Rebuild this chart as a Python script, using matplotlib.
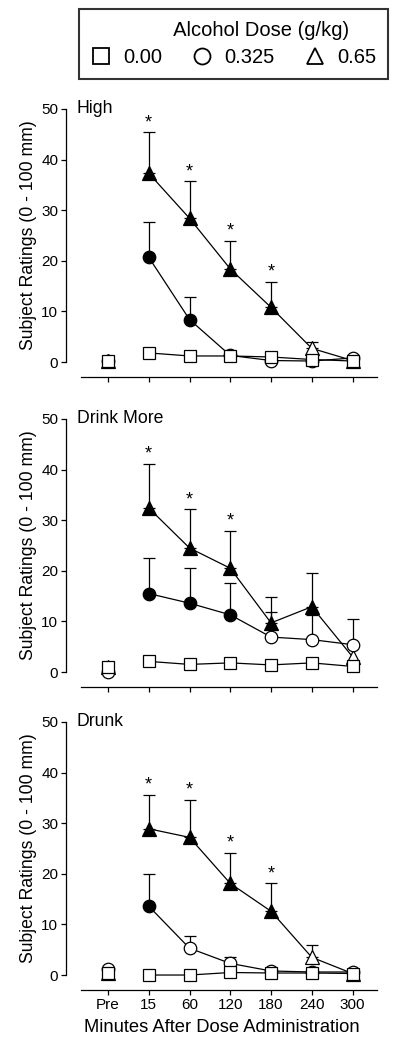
"""Subject ratings over time for three alcohol doses (High / Drink More / Drunk)."""

import numpy as np
import matplotlib
matplotlib.use('Agg')
import matplotlib.pyplot as plt
from matplotlib.lines import Line2D

plt.rcParams['font.family'] = ['Liberation Sans', 'DejaVu Sans']

time_labels = ['Pre', '15', '60', '120', '180', '240', '300']
doses = ['0.00', '0.325', '0.65']
panels = ['High', 'Drink More', 'Drunk']

# means per panel, per dose (Pre, 15, 60, 120, 180, 240, 300)
high_000 = [0.3, 1.8, 1.2, 1.2, 1.0, 0.5, 0.2]
high_0325 = [0.2, 20.7, 8.4, 1.3, 0.3, 0.2, 0.8]
high_065 = [0.3, 37.3, 28.4, 18.4, 10.8, 2.7, 0.3]
high_0325_err = [0.0, 6.9, 4.4, 0.0, 0.0, 0.0, 0.0]
high_065_err = [0.0, 8.1, 7.3, 5.6, 5.1, 1.3, 0.0]

more_000 = [0.9, 2.1, 1.5, 1.8, 1.4, 1.8, 1.1]
more_0325 = [0.0, 15.5, 13.6, 11.3, 6.9, 6.4, 5.4]
more_065 = [0.9, 32.4, 24.5, 20.5, 9.7, 12.9, 3.0]
more_0325_err = [0.0, 7.0, 6.9, 6.3, 5.0, 4.9, 5.0]
more_065_err = [0.0, 8.7, 7.7, 7.4, 5.2, 6.6, 0.0]

drunk_000 = [0.4, 0.0, 0.0, 0.5, 0.4, 0.4, 0.3]
drunk_0325 = [1.1, 13.6, 5.3, 2.3, 0.8, 0.6, 0.6]
drunk_065 = [0.4, 28.9, 27.2, 18.1, 12.6, 3.5, 0.3]
drunk_0325_err = [0.0, 6.3, 2.4, 1.3, 0.0, 0.0, 0.0]
drunk_065_err = [0.0, 6.7, 7.4, 6.1, 5.5, 2.4, 0.0]

# filled markers = significant vs placebo
high_0325_fill = [0, 1, 1, 0, 0, 0, 0]
high_065_fill = [0, 1, 1, 1, 1, 0, 0]
more_0325_fill = [0, 1, 1, 1, 0, 0, 0]
more_065_fill = [0, 1, 1, 1, 1, 1, 0]
drunk_0325_fill = [0, 1, 0, 0, 0, 0, 0]
drunk_065_fill = [0, 1, 1, 1, 1, 0, 0]

high_stars = [1, 2, 3, 4]
more_stars = [1, 2, 3]
drunk_stars = [1, 2, 3, 4]

panel_data = [
    (high_000, high_0325, high_065, high_0325_err, high_065_err,
     high_0325_fill, high_065_fill, high_stars),
    (more_000, more_0325, more_065, more_0325_err, more_065_err,
     more_0325_fill, more_065_fill, more_stars),
    (drunk_000, drunk_0325, drunk_065, drunk_0325_err, drunk_065_err,
     drunk_0325_fill, drunk_065_fill, drunk_stars),
]

LW = 0.9
MS = {'s': 8.5, 'o': 9, '^': 9.5}


def draw_series(ax, x, y, err, fill, marker, z):
    y = np.asarray(y, dtype=float)
    fill = np.asarray(fill, dtype=bool)
    # connecting line skips the Pre point
    ax.plot(x[1:], y[1:], color='black', lw=LW, zorder=z, clip_on=False)
    if err is not None:
        err = np.asarray(err, dtype=float)
        m = err > 0
        ax.errorbar(x[m], y[m], yerr=[np.zeros(m.sum()), err[m]], fmt='none',
                    ecolor='black', elinewidth=LW, capsize=4.5, capthick=LW,
                    zorder=z - 0.5, clip_on=False)
    for sel, fc in ((fill, 'black'), (~fill, 'white')):
        ax.plot(x[sel], y[sel], ls='none', marker=marker, ms=MS[marker],
                mfc=fc, mec='black', mew=LW, zorder=z + 0.1, clip_on=False)


fig = plt.figure(figsize=(4.0, 10.5), dpi=100)
x = np.arange(len(time_labels))
bottoms = [0.6552, 0.3600, 0.0714]

for i, (name, data) in enumerate(zip(panels, panel_data)):
    d0, d1, d2, e1, e2, f1, f2, stars = data
    ax = fig.add_axes([0.165, bottoms[i], 0.7775, 0.241])

    draw_series(ax, x, d2, e2, f2, '^', 3)
    draw_series(ax, x, d1, e1, f1, 'o', 4)
    draw_series(ax, x, d0, None, [0] * 7, 's', 5)

    for s in stars:
        ax.text(x[s], d2[s] + e2[s] + 0.2, '*', ha='center', va='bottom',
                fontsize=13)

    ax.set_xlim(-1.03, 6.6)
    ax.set_ylim(0, 50)
    ax.set_yticks(np.arange(0, 51, 10))
    ax.set_xticks(x)
    ax.set_xticklabels(time_labels if i == 2 else [])
    ax.spines['top'].set_visible(False)
    ax.spines['right'].set_visible(False)
    ax.spines['bottom'].set_position(('outward', 11))
    ax.spines['bottom'].set_bounds(-0.66, 6.6)
    for sp in ('left', 'bottom'):
        ax.spines[sp].set_linewidth(LW)
    ax.tick_params(axis='both', direction='out', length=3.5, width=LW,
                   labelsize=11, pad=2)
    ax.set_ylabel('Subject Ratings (0 - 100 mm)', fontsize=12.7, labelpad=3)
    ax.text(0.035, 1.0, name, transform=ax.transAxes, ha='left',
            va='center', fontsize=12.7)
    if i == 2:
        ax.set_xlabel('Minutes After Dose Administration', fontsize=13.2,
                      labelpad=5)

handles = [Line2D([], [], ls='none', marker=m, ms=s, mfc='white',
                  mec='black', mew=1.3) for m, s in (('s', 11), ('o', 11.5), ('^', 12))]
leg = fig.legend(handles, doses, title='          Alcohol Dose (g/kg)', ncol=3,
                 loc='upper center', bbox_to_anchor=(0.584, 0.9914),
                 fontsize=14.5, title_fontsize=14.5, frameon=True,
                 fancybox=False, edgecolor='black', handletextpad=0.6,
                 columnspacing=1.5, borderpad=0.6, handlelength=1.0,
                 borderaxespad=0, labelspacing=0.4)
leg.get_frame().set_linewidth(1.5)

fig.savefig('out.png', dpi=100)
plt.close(fig)
